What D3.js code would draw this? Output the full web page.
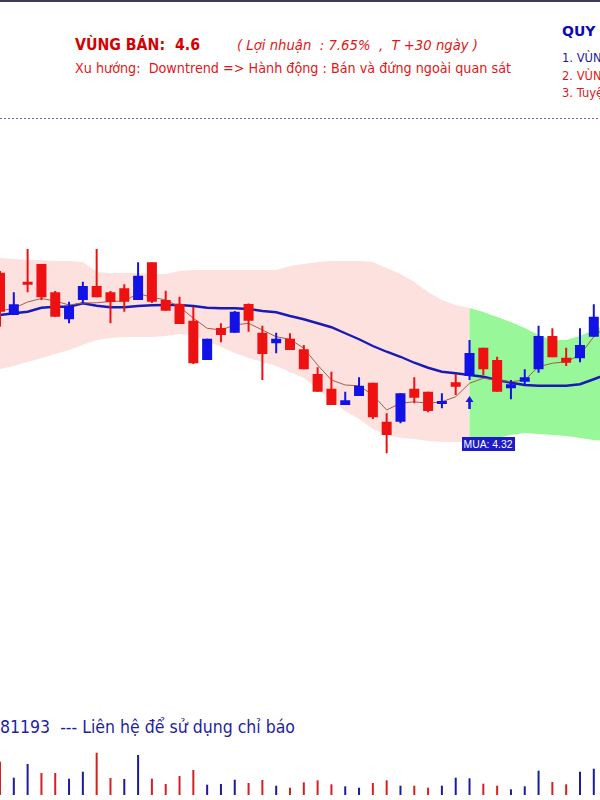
<!DOCTYPE html>
<html><head><meta charset="utf-8">
<script src="https://cdn.jsdelivr.net/npm/d3@7"></script>
<style>body{margin:0;background:#fff}svg{display:block}text{white-space:pre}</style>
</head><body><div id="chart"></div>
<script>
// ---- data (prices) ----
const opens  = [4.641,4.472,4.605,4.676,4.563,4.455,4.532,4.588,4.563,4.579,4.532,4.683,4.532,4.516,4.449,4.292,4.420,4.401,4.516,4.401,4.359,4.377,4.335,4.236,4.177,4.112,4.148,4.201,4.045,4.045,4.177,4.165,4.119,4.203,4.228,4.341,4.292,4.179,4.205,4.255,4.388,4.301,4.299,4.385];
const highs  = [4.648,4.563,4.736,4.676,4.568,4.525,4.605,4.736,4.568,4.595,4.683,4.683,4.569,4.545,4.505,4.377,4.439,4.488,4.518,4.429,4.401,4.399,4.352,4.263,4.245,4.165,4.223,4.201,4.079,4.159,4.223,4.165,4.159,4.236,4.372,4.341,4.305,4.212,4.255,4.429,4.419,4.341,4.419,4.515];
const lows   = [4.425,4.472,4.563,4.532,4.465,4.439,4.519,4.543,4.439,4.485,4.532,4.520,4.489,4.436,4.276,4.292,4.363,4.401,4.405,4.212,4.319,4.332,4.255,4.165,4.112,4.112,4.148,4.056,3.919,4.039,4.119,4.083,4.099,4.152,4.212,4.232,4.165,4.135,4.192,4.241,4.303,4.268,4.283,4.385];
const closes = [4.485,4.515,4.595,4.543,4.465,4.509,4.588,4.543,4.524,4.525,4.629,4.525,4.489,4.436,4.279,4.377,4.392,4.485,4.449,4.316,4.377,4.332,4.255,4.165,4.112,4.131,4.189,4.063,3.992,4.159,4.141,4.088,4.128,4.185,4.320,4.255,4.165,4.195,4.223,4.388,4.303,4.281,4.352,4.465];
const volumes = [333,173,310,220,220,163,233,423,170,160,400,163,110,190,250,103,110,153,120,150,93,73,127,147,107,87,73,120,147,93,93,73,93,173,167,113,93,57,87,243,130,107,233,263];
// moving averages and band (one extra value for the bar just past the right edge)
const maSlow = [4.472,4.479,4.485,4.501,4.505,4.505,4.519,4.509,4.503,4.503,4.508,4.511,4.512,4.512,4.508,4.501,4.499,4.499,4.496,4.488,4.483,4.468,4.455,4.439,4.423,4.399,4.375,4.348,4.325,4.305,4.281,4.261,4.245,4.239,4.232,4.225,4.212,4.201,4.192,4.189,4.189,4.189,4.195,4.215,4.236];
const maFast = [4.488,4.499,4.524,4.538,4.528,4.512,4.520,4.521,4.526,4.528,4.558,4.543,4.532,4.505,4.459,4.419,4.412,4.432,4.439,4.412,4.385,4.375,4.339,4.272,4.212,4.192,4.189,4.152,4.092,4.119,4.125,4.119,4.125,4.145,4.199,4.219,4.212,4.205,4.212,4.265,4.279,4.285,4.312,4.385,4.432];
const bandUpper = [4.700,4.696,4.692,4.692,4.688,4.688,4.684,4.644,4.640,4.640,4.640,4.636,4.636,4.648,4.652,4.652,4.652,4.652,4.652,4.652,4.652,4.668,4.676,4.684,4.688,4.688,4.688,4.684,4.660,4.636,4.604,4.564,4.532,4.512,4.500,4.484,4.464,4.444,4.420,4.392,4.372,4.372,4.388,4.412,4.436];
const bandLower = [4.256,4.268,4.284,4.300,4.316,4.332,4.352,4.372,4.380,4.384,4.384,4.384,4.388,4.396,4.392,4.368,4.344,4.320,4.300,4.284,4.268,4.244,4.220,4.176,4.128,4.088,4.056,4.016,3.992,3.980,3.976,3.968,3.964,3.964,3.964,3.972,3.980,3.992,4.000,3.996,3.992,3.988,3.980,3.972,3.968];
const buyIndex = 34;
const buyLabel = "MUA: 4.32";
const headline = "VÙNG BÁN:  4.6";
const profitNote = "( Lợi nhuận  : 7.65%  ,  T +30 ngày )";
const trendLine = "Xu hướng:  Downtrend => Hành động : Bán và đứng ngoài quan sát";
const ruleTitle = "QUY TẮC";
const ruleItems = ["1. VÙNG MUA", "2. VÙNG BÁN", "3. Tuyệt đối"];
const footer = "81193  --- Liên hệ để sử dụng chỉ báo";

// ---- drawing ----
const W = 600, H = 800;
const svg = d3.select("#chart").append("svg").attr("width", W).attr("height", H);
const FONT = "'DejaVu Sans', Tahoma, sans-serif";
const RED = "#ee1111", BLUE = "#1212e6";

const x = d3.scaleLinear().domain([0, 43]).range([0, 593.8]);
const y = d3.scaleLinear().domain([2.932, 5.252]).range([700, 120]);
const yv = d3.scaleLinear().domain([0, 500]).range([795, 745]);

// top border
svg.append("rect").attr("x", 0).attr("y", 0).attr("width", W).attr("height", 2).attr("fill", "#3c3c5c");

// header texts
svg.append("text").attr("x", 75).attr("y", 50).attr("font-family", FONT).attr("font-weight", "bold")
  .attr("font-size", 15).attr("fill", "#d60000").attr("textLength", 125).attr("lengthAdjust", "spacingAndGlyphs").text(headline);
svg.append("text").attr("x", 237).attr("y", 50).attr("font-family", FONT).attr("font-style", "italic")
  .attr("font-size", 14).attr("fill", "#e01818").attr("textLength", 241).attr("lengthAdjust", "spacingAndGlyphs").text(profitNote);
svg.append("text").attr("x", 75).attr("y", 73).attr("font-family", FONT)
  .attr("font-size", 14).attr("fill", "#e01818").attr("textLength", 436).attr("lengthAdjust", "spacingAndGlyphs").text(trendLine);
svg.append("text").attr("x", 562).attr("y", 36).attr("font-family", FONT).attr("font-weight", "bold")
  .attr("font-size", 14).attr("fill", "#0a0ab8").text(ruleTitle);
const ruleColors = ["#1a1aa6", "#e01818", "#e01818"];
ruleItems.forEach((t, k) => {
  svg.append("text").attr("x", 562).attr("y", 62 + k * 17.5).attr("font-family", FONT)
    .attr("font-size", 11.5).attr("fill", ruleColors[k]).text(t);
});
// dotted separator
svg.append("line").attr("x1", 0).attr("x2", W).attr("y1", 118.5).attr("y2", 118.5)
  .attr("stroke", "#6a6aaa").attr("stroke-width", 1).attr("stroke-dasharray", "2,2");

// band areas
const allIdx = d3.range(bandUpper.length);
const area = d3.area().x(i => x(i)).y0(i => y(bandLower[i])).y1(i => y(bandUpper[i]));
svg.append("path").datum(allIdx.filter(i => i <= buyIndex)).attr("d", area).attr("fill", "#fde1df");
svg.append("path").datum(allIdx.filter(i => i >= buyIndex)).attr("d", area).attr("fill", "#98f798");

// slow MA (blue) and fast MA (brown)
svg.append("path").datum(allIdx).attr("fill", "none").attr("stroke", "#1a1ab4").attr("stroke-width", 2.4)
  .attr("d", d3.line().x(i => x(i)).y(i => y(maSlow[i])));
svg.append("path").datum(allIdx).attr("fill", "none").attr("stroke", "#a0604a").attr("stroke-width", 1)
  .attr("d", d3.line().x(i => x(i)).y(i => y(maFast[i])));

// candles
const idx = d3.range(opens.length);
const up = i => closes[i] >= opens[i];
const cg = svg.append("g");
cg.selectAll("line.wick").data(idx).join("line")
  .attr("x1", i => x(i)).attr("x2", i => x(i))
  .attr("y1", i => y(highs[i])).attr("y2", i => y(lows[i]))
  .attr("stroke", i => up(i) ? BLUE : RED).attr("stroke-width", 2);
cg.selectAll("rect.body").data(idx).join("rect")
  .attr("x", i => x(i) - 5).attr("width", 10)
  .attr("y", i => y(Math.max(opens[i], closes[i])))
  .attr("height", i => Math.max(3, Math.abs(y(opens[i]) - y(closes[i]))))
  .attr("fill", i => up(i) ? BLUE : RED);

// buy arrow and label
const ax = x(buyIndex), ay = y(lows[buyIndex]) + 16;
svg.append("path").attr("d", `M${ax},${ay} L${ax - 4},${ay + 6} L${ax - 1.3},${ay + 6} L${ax - 1.3},${ay + 13} L${ax + 1.3},${ay + 13} L${ax + 1.3},${ay + 6} L${ax + 4},${ay + 6} Z`)
  .attr("fill", "#1a1ae0");
const ly = y(bandLower[buyIndex]) - 5;
svg.append("rect").attr("x", ax - 7.5).attr("y", ly).attr("width", 53).attr("height", 14).attr("fill", "#1c1cc8");
svg.append("text").attr("x", ax - 6).attr("y", ly + 11).attr("font-family", "'Liberation Sans', Arial, sans-serif")
  .attr("font-size", 11).attr("fill", "#fff").attr("textLength", 49).attr("lengthAdjust", "spacingAndGlyphs").text(buyLabel);

// footer
svg.append("text").attr("x", 0).attr("y", 733).attr("font-family", FONT).attr("font-size", 17)
  .attr("fill", "#1e1e9e").attr("textLength", 295).attr("lengthAdjust", "spacingAndGlyphs").text(footer);

// volume bars (colour: close vs previous close)
const volUp = i => i === 0 ? up(0) : closes[i] >= closes[i - 1];
svg.append("g").selectAll("rect").data(idx).join("rect")
  .attr("x", i => x(i) - 1).attr("width", 2)
  .attr("y", i => yv(volumes[i])).attr("height", i => yv(0) - yv(volumes[i]))
  .attr("fill", i => volUp(i) ? "#1c1c9c" : "#d42020");
</script></body></html>
